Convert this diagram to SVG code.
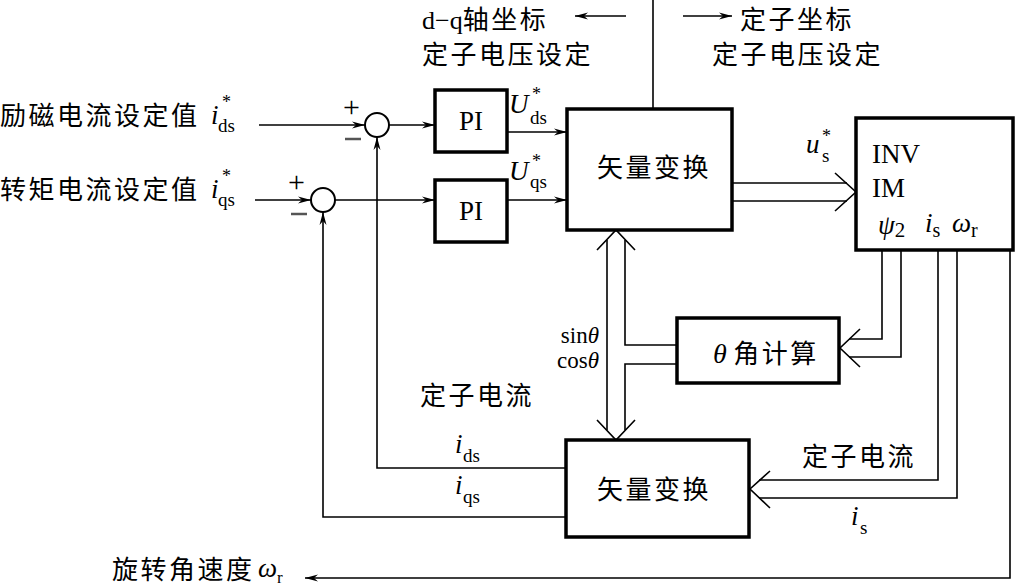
<svg xmlns="http://www.w3.org/2000/svg" width="1017" height="586" viewBox="0 0 1017 586">
<style>
.box{fill:#fff;stroke:#000;stroke-width:3.5}
.ln{fill:none;stroke:#000;stroke-width:1.6}
.chev{fill:none;stroke:#000;stroke-width:1.6}
.sum{fill:#fff;stroke:#000;stroke-width:2}
text{font-family:"Liberation Serif","Noto Sans CJK SC",serif;fill:#000}
.cj{font-size:26px;letter-spacing:2.5px}
.lat{font-size:27px}
.it{font-style:italic}
.sub{font-size:19px}
.sup{font-size:18px}
.pm{font-size:30px}
</style>
<defs>
<marker id="ar" markerWidth="14" markerHeight="8" refX="13" refY="4" orient="auto" markerUnits="userSpaceOnUse">
<path d="M0,0.5 L13,4 L0,7.5 L4,4 Z" fill="#000"/>
</marker>
</defs>
<rect width="1017" height="586" fill="#fff"/>

<g id="connectors">
<line class="ln" x1="653" y1="0" x2="653" y2="109"/>
<line class="ln" x1="626" y1="16" x2="575" y2="16" marker-end="url(#ar)"/>
<line class="ln" x1="683" y1="16" x2="732" y2="16" marker-end="url(#ar)"/>
<line class="ln" x1="259" y1="125" x2="365" y2="125" marker-end="url(#ar)"/>
<line class="ln" x1="255" y1="200" x2="311" y2="200" marker-end="url(#ar)"/>
<line class="ln" x1="389" y1="125" x2="435" y2="125" marker-end="url(#ar)"/>
<line class="ln" x1="335" y1="200" x2="435" y2="200" marker-end="url(#ar)"/>
<line class="ln" x1="507" y1="132" x2="567" y2="132" marker-end="url(#ar)"/>
<line class="ln" x1="507" y1="200" x2="567" y2="200" marker-end="url(#ar)"/>
<polyline class="ln" points="566,468 377,468 377,137" marker-end="url(#ar)"/>
<polyline class="ln" points="566,517 323,517 323,212" marker-end="url(#ar)"/>
<line class="ln" x1="732" y1="183" x2="847" y2="183"/>
<line class="ln" x1="732" y1="201" x2="847" y2="201"/>
<polyline class="chev" points="835,173 856,192 835,211"/>
<line class="ln" x1="607" y1="240" x2="607" y2="430"/>
<polyline class="ln" points="625,240 625,345 677,345"/>
<polyline class="ln" points="677,364 625,364 625,430"/>
<polyline class="chev" points="597,250 616,230 635,250"/>
<polyline class="chev" points="597,420 616,440 635,420"/>
<polyline class="ln" points="882,250 882,339 849,339"/>
<polyline class="ln" points="901,250 901,357 849,357"/>
<polyline class="chev" points="860,329 840,348 860,367"/>
<polyline class="ln" points="938,250 938,480 759,480"/>
<polyline class="ln" points="957,250 957,498 759,498"/>
<polyline class="chev" points="770,471 750,489 770,508"/>
<polyline class="ln" points="1010,250 1010,578 305,578" marker-end="url(#ar)"/>
</g>

<g id="sum1">
<circle class="sum" cx="377" cy="125" r="12"/>
<text x="343" y="117" class="pm">+</text>
<line x1="345" y1="139" x2="361" y2="139" stroke="#555" stroke-width="2.5"/>
</g>
<g id="sum2">
<circle class="sum" cx="323" cy="200" r="12"/>
<text x="288" y="192" class="pm">+</text>
<line x1="291" y1="214" x2="307" y2="214" stroke="#555" stroke-width="2.5"/>
</g>

<g id="pi1">
<rect class="box" x="435" y="90" width="72" height="62"/>
<text x="471" y="130" class="lat" text-anchor="middle" font-size="26">PI</text>
</g>
<g id="pi2">
<rect class="box" x="435" y="180" width="72" height="62"/>
<text x="471" y="220" class="lat" text-anchor="middle" font-size="26">PI</text>
</g>
<g id="vt1">
<rect class="box" x="567" y="109" width="165" height="121"/>
<text x="597" y="177" class="cj">矢量变换</text>
</g>
<g id="inv">
<rect class="box" x="856" y="118" width="157" height="132"/>
<text x="872" y="163" class="lat">INV</text>
<text x="872" y="197" class="lat">IM</text>
<text x="878" y="234" class="lat"><tspan class="it">ψ</tspan><tspan font-size="21" dy="3">2</tspan></text>
<text x="925" y="232" class="lat"><tspan class="it">i</tspan><tspan font-size="20" dy="5">s</tspan></text>
<text x="952" y="232" class="lat"><tspan class="it">ω</tspan><tspan font-size="20" dy="5">r</tspan></text>
</g>
<g id="theta">
<rect class="box" x="677" y="318" width="162" height="65"/>
<text x="713" y="363" class="cj"><tspan class="it" font-family="Liberation Serif" font-size="28">θ</tspan><tspan dx="4">角计算</tspan></text>
</g>
<g id="vt2">
<rect class="box" x="566" y="440" width="183" height="97"/>
<text x="597" y="499" class="cj">矢量变换</text>
</g>

<g id="labels">
<text x="0" y="125" class="cj">励磁电流设定值</text>
<text x="211" y="124" class="lat it">i</text>
<text x="222" y="108" class="sup">*</text>
<text x="218" y="132" class="sub">ds</text>
<text x="0" y="199" class="cj">转矩电流设定值</text>
<text x="211" y="198" class="lat it">i</text>
<text x="222" y="182" class="sup">*</text>
<text x="218" y="206" class="sub">qs</text>

<text x="422" y="29" font-size="26">d−q<tspan class="cj">轴坐标</tspan></text>
<text x="422" y="64" class="cj">定子电压设定</text>
<text x="740" y="29" class="cj">定子坐标</text>
<text x="712" y="64" class="cj">定子电压设定</text>

<text x="509" y="113" class="lat it">U</text>
<text x="532" y="100" class="sup">*</text>
<text x="530" y="124" class="sub">ds</text>
<text x="509" y="180" class="lat it">U</text>
<text x="532" y="167" class="sup">*</text>
<text x="530" y="188" class="sub">qs</text>

<text x="806" y="153" class="lat it">u</text>
<text x="822" y="142" class="sup">*</text>
<text x="822" y="162" class="sub">s</text>

<text x="599" y="343" font-size="23" text-anchor="end">sin<tspan class="it">θ</tspan></text>
<text x="599" y="368" font-size="23" text-anchor="end">cos<tspan class="it">θ</tspan></text>
<text x="420" y="405" class="cj">定子电流</text>
<text x="802" y="466" class="cj">定子电流</text>

<text x="455" y="453" class="lat it">i</text>
<text x="463" y="462" class="sub">ds</text>
<text x="455" y="494" class="lat it">i</text>
<text x="463" y="503" class="sub">qs</text>
<text x="851" y="525" class="lat it">i</text>
<text x="860" y="534" class="sub">s</text>

<text x="112" y="579" class="cj">旋转角速度</text>
<text x="258" y="577" class="lat it">ω</text>
<text x="277" y="583" font-size="17">r</text>
</g>
</svg>
